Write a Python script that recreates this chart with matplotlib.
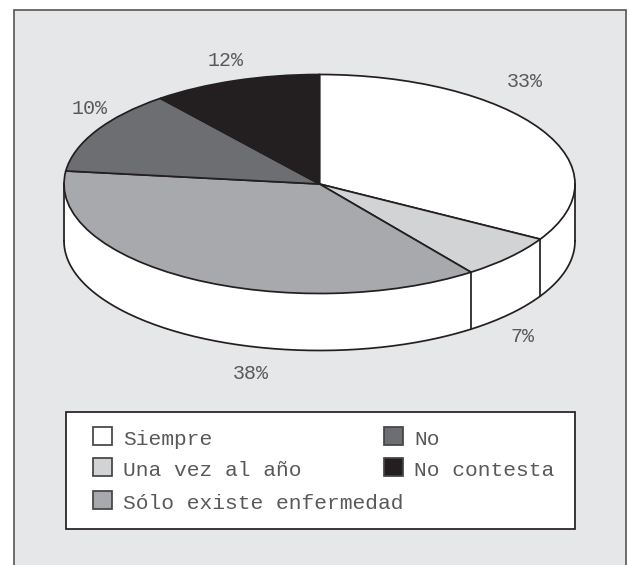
import numpy as np
from matplotlib import pyplot as plt
from matplotlib.patches import Rectangle

# shares as drawn in the picture, printed labels are kept apart
categories = ["Siempre", "Una vez al año", "Sólo existe enfermedad", "No", "No contesta"]
shares = [33.4, 6.5, 37, 12.4, 10.7]
pct_labels = ["33%", "7%", "38%", "10%", "12%"]
colors = ["#ffffff", "#d1d3d4", "#a7a9ac", "#6d6e71", "#231f20"]

W, H = 630, 565
TEXT = "#58595b"
LINE = "#231f20"
LW = 1.25

plt.rcParams["font.family"] = ["Liberation Mono", "DejaVu Sans"]
fig = plt.figure(figsize=(W / 100, H / 100), dpi=100, facecolor="white")

# pixel axes for the panel, labels and legend
bg = fig.add_axes([0, 0, 1, 1])
bg.set_xlim(0, W)
bg.set_ylim(H, 0)
bg.axis("off")
bg.add_patch(Rectangle((14, 10), 612, 570, fc="#e6e7e8", ec="#555555", lw=1.2))

# pie axes: unit circle squashed into the ellipse
cx, cy, a, b, depth = 319.5, 184, 255.5, 109.5, 57
d = depth / b
ax = fig.add_axes([(cx - a) / W, 1 - (cy + b + depth) / H, 2 * a / W, (2 * b + depth) / H])
ax.axis("off")

t = np.linspace(np.pi, 2 * np.pi, 200)
ax.fill_between(np.cos(t), np.sin(t), np.sin(t) - d, color="white", lw=0)
ax.plot(np.cos(t), np.sin(t) - d, color=LINE, lw=LW, clip_on=False)
ax.plot([-1, -1], [0, -d], color=LINE, lw=LW, clip_on=False)
ax.plot([1, 1], [0, -d], color=LINE, lw=LW, clip_on=False)

ax.pie(shares, colors=colors, startangle=90, counterclock=False, radius=1, center=(0, 0),
       wedgeprops={"edgecolor": LINE, "linewidth": LW, "clip_on": False}, frame=False)
ax.set_aspect("auto")
ax.set_xlim(-1, 1)
ax.set_ylim(-1 - d, 1)

# wall edges under the slice borders on the front side
ang = np.pi / 2 - 2 * np.pi * np.cumsum(shares) / sum(shares)
for th in ang[:2]:
    ax.plot([np.cos(th)] * 2, [np.sin(th), np.sin(th) - d], color=LINE, lw=LW)

label_pos = [(525, 87), (523, 342), (251, 379), (90, 114), (226, 66)]
for s, (x, y) in zip(pct_labels, label_pos):
    bg.text(x, y, s, ha="center", va="baseline", fontsize=14.4, color=TEXT)

# legend box
bg.add_patch(Rectangle((66, 412), 509, 117, fc="white", ec=LINE, lw=LW, zorder=3))
legend_pos = [(92.5, 445), (92.5, 476), (92.5, 509), (383.5, 445), (383.5, 476)]
for name, col, (x, y) in zip(categories, colors, legend_pos):
    bg.add_patch(Rectangle((x, y - 18), 19, 18, fc=col, ec="#444444", lw=LW, zorder=4))
    bg.text(x + 30.5, y, name, ha="left", va="baseline", fontsize=15.35, color=TEXT, zorder=4)

fig.savefig("out.png", dpi=100, facecolor="white")
